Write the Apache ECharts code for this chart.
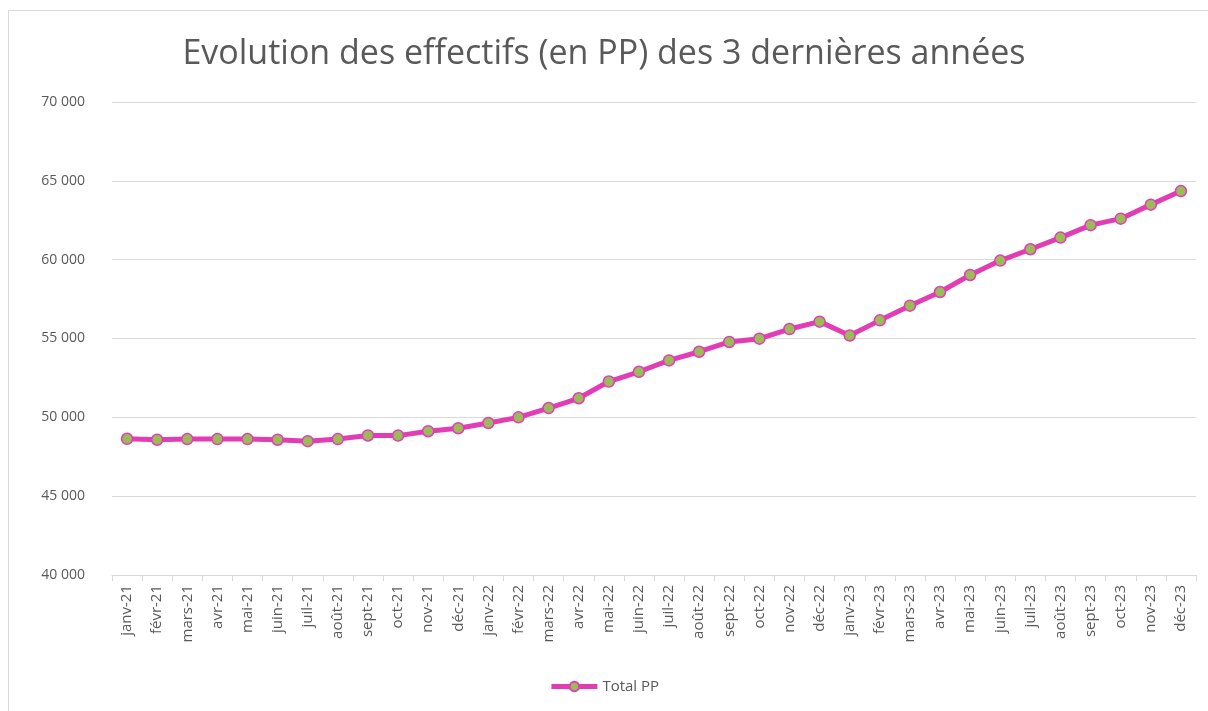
<!DOCTYPE html>
<html><head><meta charset="utf-8">
<script src="https://cdn.jsdelivr.net/npm/echarts@6/dist/echarts.min.js"></script>
<style>
html,body{margin:0;padding:0;background:#fff;}
#frame{position:absolute;left:8px;top:10px;width:1210px;height:720px;border:1px solid #d9d9d9;box-sizing:border-box;}
#c{position:absolute;left:0;top:0;width:1208px;height:711px;}
</style></head>
<body>
<div id="frame"></div>
<div id="c"></div>
<script>
const categories = ['janv-21','févr-21','mars-21','avr-21','mai-21','juin-21','juil-21','août-21','sept-21','oct-21','nov-21','déc-21',
'janv-22','févr-22','mars-22','avr-22','mai-22','juin-22','juil-22','août-22','sept-22','oct-22','nov-22','déc-22',
'janv-23','févr-23','mars-23','avr-23','mai-23','juin-23','juil-23','août-23','sept-23','oct-23','nov-23','déc-23'];
const totalPP = [48640,48580,48620,48620,48620,48580,48490,48620,48850,48840,49120,49310,
49640,50000,50590,51210,52270,52890,53610,54160,54780,54990,55600,56070,
55190,56150,57080,57950,59030,59940,60660,61400,62190,62600,63490,64350];
const titleText = 'Evolution des effectifs (en PP) des 3 dernières années';
const seriesName = 'Total PP';

const chart = echarts.init(document.getElementById('c'), null, {renderer:'canvas'});
const fmt = v => String(v).replace(/\B(?=(\d{3})+(?!\d))/g, '\u00a0');
chart.setOption({
  animation:false,
  backgroundColor:'transparent',
  textStyle:{fontFamily:'"Open Sans", "Noto Sans", sans-serif'},
  title:{text:titleText,left:'center',top:32,
    textStyle:{fontSize:34,fontWeight:'normal',color:'#595959',fontFamily:'"Open Sans", sans-serif'}},
  legend:{bottom:12,left:'center',itemWidth:46,itemHeight:12,itemGap:6,
    lineStyle:{width:5,color:'#e23db4'},
    textStyle:{color:'#595959',fontSize:15},
    data:[seriesName]},
  grid:{left:112,right:12,top:102,bottom:136,containLabel:false},
  xAxis:{type:'category',data:categories,boundaryGap:true,
    axisLine:{lineStyle:{color:'#d9d9d9',width:1}},
    axisTick:{show:true,alignWithLabel:false,length:6,lineStyle:{color:'#d9d9d9'}},
    axisLabel:{rotate:90,interval:0,color:'#595959',fontSize:15,margin:10}},
  yAxis:{type:'value',min:40000,max:70000,interval:5000,
    axisLine:{show:false},axisTick:{show:false},
    splitLine:{lineStyle:{color:'#d9d9d9',width:1}},
    axisLabel:{color:'#595959',fontSize:14,margin:27,formatter:fmt}},
  series:[{name:seriesName,type:'line',data:totalPP,
    lineStyle:{color:'#e23db4',width:5},
    symbol:'circle',symbolSize:11,
    itemStyle:{color:'#9bbb59',borderColor:'#e23db4',borderWidth:1.5}}]
});
</script>
</body></html>
